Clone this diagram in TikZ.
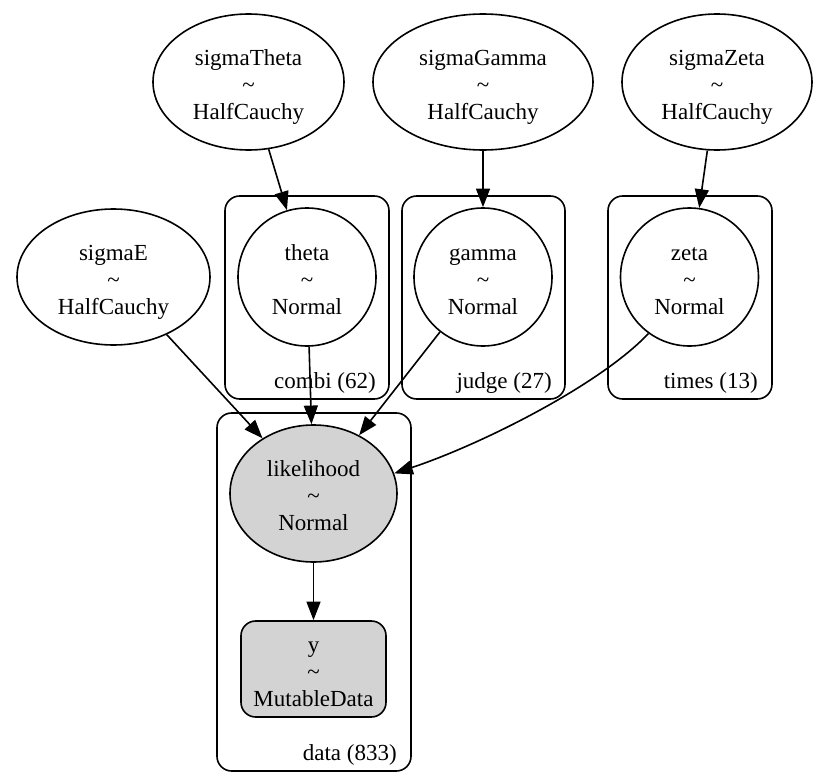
\documentclass[tikz,border=0pt]{standalone}
\usepackage{fontspec}
\setmainfont{Liberation Serif}
\usetikzlibrary{shapes.geometric,arrows.meta}
\newcommand{\tl}[3]{\rule{0pt}{19pt}#1\\\textasciitilde\\#3\rule[-4pt]{0pt}{4pt}}
\begin{document}
\begin{tikzpicture}[x=0.75pt,y=0.75pt,
  every node/.style={font=\fontsize{17.25pt}{20.25pt}\selectfont, align=center, inner sep=0pt},
  rvell/.style={draw, ellipse, line width=1.2pt},
  rvcirc/.style={draw, circle, line width=1.2pt, minimum size=103.5pt},
  plate/.style={draw, rectangle, rounded corners=11pt, line width=1.2pt},
  platelabel/.style={anchor=east},
  arr/.style={-{Triangle[length=14pt,width=10.5pt]}, line width=1.2pt},
  obs/.style={fill={rgb,255:red,211;green,211;blue,211}}
]
\useasboundingbox (0,0) rectangle (826,-778);

% plates
\node[plate, minimum width=123pt, minimum height=152.25pt] (combiplate) at (307,-297.5) {};
\node[plate, minimum width=122.25pt, minimum height=152.25pt] (judgeplate) at (483.5,-297.5) {};
\node[plate, minimum width=123pt, minimum height=152.25pt] (timesplate) at (690,-297.5) {};
\node[plate, minimum width=145.5pt, minimum height=268.5pt] (dataplate) at (314,-592) {};

\node[platelabel] (combilab) at (376,-383) {combi (62)};
\node[platelabel] (judgelab) at (552,-383) {judge (27)};
\node[platelabel] (timeslab) at (758,-383) {times (13)};
\node[platelabel] (datalab) at (397,-755) {data (833)};

% top priors
\node[rvell, minimum width=143.25pt, minimum height=102pt] (sT) at (248.5,-82) {\tl{sigmaTheta}{}{HalfCauchy}};
\node[rvell, minimum width=165pt, minimum height=102pt] (sG) at (483,-82) {\tl{sigmaGamma}{}{HalfCauchy}};
\node[rvell, minimum width=142.5pt, minimum height=102pt] (sZ) at (717,-82) {\tl{sigmaZeta}{}{HalfCauchy}};
\node[rvell, minimum width=144.75pt, minimum height=102pt] (sE) at (113.5,-277) {\tl{sigmaE}{}{HalfCauchy}};

% plate variables
\node[rvcirc] (theta) at (307,-277) {\tl{theta}{}{Normal}};
\node[rvcirc] (gamma) at (483,-277) {\tl{gamma}{}{Normal}};
\node[rvcirc] (zeta) at (689.5,-277) {\tl{zeta}{}{Normal}};

% likelihood and data
\node[rvell, obs, minimum width=125.25pt, minimum height=102.75pt] (lik) at (313.5,-493.5) {\tl{likelihood}{}{Normal}};
\node[draw, obs, rectangle, rounded corners=11pt, line width=1.2pt, minimum width=108.75pt, minimum height=72pt] (yobs) at (313.5,-669) {\tl{y}{}{MutableData}};

% edges
\draw[arr] (sT) -- (theta);
\draw[arr] (sG) -- (gamma);
\draw[arr] (sZ) -- (zeta);
\draw[arr] (sE) -- (lik);
\draw[arr] (theta) -- (lik);
\draw[arr] (gamma) -- (lik);
\draw[arr] (zeta.234) .. controls (600,-385) and (480,-445) .. (lik.14);
\draw[arr] (lik) -- (yobs);
\end{tikzpicture}
\end{document}
